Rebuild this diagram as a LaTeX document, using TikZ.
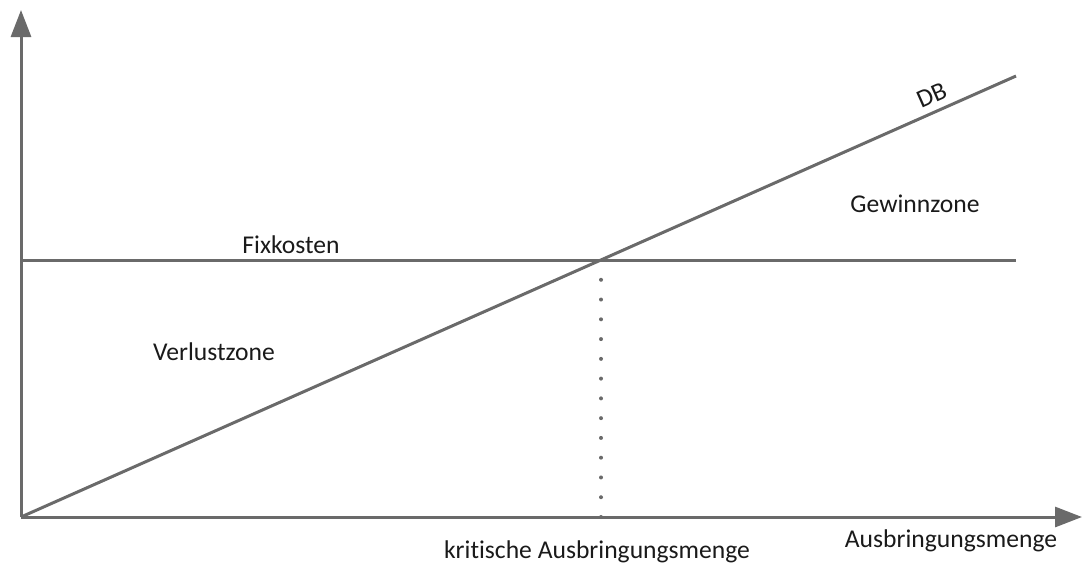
\documentclass[tikz,border=0pt]{standalone}
\usepackage{fontspec}
\setmainfont{Carlito}[Ligatures={NoCommon}]
\usetikzlibrary{arrows.meta,positioning}
\definecolor{linegrey}{HTML}{6A6A6A}
\definecolor{textgrey}{HTML}{1A1A1A}

\begin{document}
\begin{tikzpicture}[x=1pt,y=-1pt]
\tikzstyle{axis}=[-{Triangle[width=20pt,length=27pt]}, line width=3pt, draw=linegrey]
\tikzstyle{curve}=[line width=3pt, draw=linegrey]
\tikzstyle{guide}=[line width=4pt, draw=linegrey, line cap=round, dash pattern=on 0pt off 19.77pt]
\tikzstyle{lbl}=[text=textgrey, font=\fontsize{25.6}{30}\selectfont, inner sep=0pt]

  \useasboundingbox (0,0) rectangle (1083,566);

    % Koordinaten
  \coordinate (O) at (21,517);
  \coordinate (ymax) at (21,10);
  \coordinate (xmax) at (1082,517);
  \coordinate (fixstart) at (21,260);
  \coordinate (fixend) at (1016,260);
  \coordinate (dbend) at (1016,76);
  \coordinate (be) at (601,260);
  \coordinate (beaxis) at (601,517);

    % Linien
  \draw[curve] (fixstart) -- (fixend);
  \draw[curve] (O) -- (dbend) node[lbl, pos=0.922, sloped, above=7pt] (db) {DB};
  \draw[guide] (beaxis) -- (be);
  \draw[axis] (O) -- (ymax);
  \draw[axis] (O) -- (xmax);

    % Beschriftungen
  \node[lbl] (fix) at (291,245) {Fixkosten};
  \node[lbl] (verlust) at (214,352) {Verlustzone};
  \node[lbl] (gewinn) at (915,204) {Gewinnzone};
  \node[lbl] (krit) [below=24pt of beaxis, xshift=-4pt] {kritische Ausbringungsmenge};
  \node[lbl] (menge) at (951,541) {Ausbringungsmenge};

\end{tikzpicture}
\end{document}
